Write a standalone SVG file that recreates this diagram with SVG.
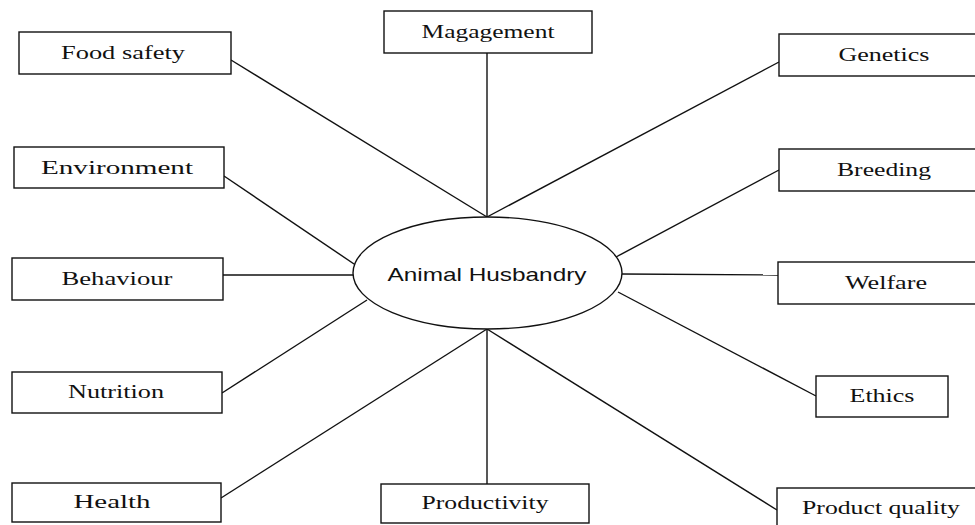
<svg xmlns="http://www.w3.org/2000/svg" width="975" height="525" viewBox="0 0 975 525">
<style>
.box{fill:#fff;stroke:#111;stroke-width:1.4}
.lbl{font-family:"Liberation Serif","Times New Roman",serif;font-size:19px;fill:#111;text-anchor:middle}
.ctr{font-family:"Liberation Sans",Arial,sans-serif;font-size:19px;fill:#111;text-anchor:middle}
.con{stroke:#111;stroke-width:1.4;fill:none}
</style>
<rect width="975" height="525" fill="#fff"/>
<g id="connectors">
<line class="con" x1="231" y1="60" x2="487" y2="217"/>
<line class="con" x1="487" y1="53" x2="487" y2="217"/>
<line class="con" x1="779" y1="62" x2="487" y2="217"/>
<line class="con" x1="224" y1="176" x2="357" y2="266"/>
<line class="con" x1="779" y1="170" x2="616" y2="257"/>
<line class="con" x1="223" y1="275" x2="353" y2="275"/>
<line class="con" x1="622" y1="274" x2="778" y2="275"/>
<line class="con" x1="222" y1="393" x2="367" y2="300"/>
<line class="con" x1="816" y1="396" x2="618" y2="292"/>
<line class="con" x1="221" y1="498" x2="487" y2="329"/>
<line class="con" x1="487" y1="329" x2="487" y2="484"/>
<line class="con" x1="777" y1="510" x2="487" y2="329"/>
</g>
<g id="center">
<ellipse class="box" cx="487.5" cy="273" rx="134.5" ry="56"/>
<text class="ctr" x="487" y="281" textLength="199" lengthAdjust="spacingAndGlyphs">Animal Husbandry</text>
</g>
<g id="food-safety"><rect class="box" x="19" y="32" width="212" height="42"/><text class="lbl" x="123" y="59" textLength="124" lengthAdjust="spacingAndGlyphs">Food safety</text></g>
<g id="management"><rect class="box" x="384" y="11" width="208" height="42"/><text class="lbl" x="488" y="38" textLength="133" lengthAdjust="spacingAndGlyphs">Magagement</text></g>
<g id="genetics"><rect class="box" x="779" y="34" width="212" height="42"/><text class="lbl" x="884" y="61" textLength="91" lengthAdjust="spacingAndGlyphs">Genetics</text></g>
<g id="environment"><rect class="box" x="14" y="147" width="210" height="41"/><text class="lbl" x="117" y="174" textLength="152" lengthAdjust="spacingAndGlyphs">Environment</text></g>
<g id="breeding"><rect class="box" x="779" y="149" width="212" height="42"/><text class="lbl" x="884" y="176" textLength="94" lengthAdjust="spacingAndGlyphs">Breeding</text></g>
<g id="behaviour"><rect class="box" x="12" y="258" width="211" height="42"/><text class="lbl" x="117" y="285" textLength="111" lengthAdjust="spacingAndGlyphs">Behaviour</text></g>
<g id="welfare"><rect class="box" x="778" y="262" width="213" height="42"/><text class="lbl" x="886" y="289" textLength="82" lengthAdjust="spacingAndGlyphs">Welfare</text></g>
<g id="nutrition"><rect class="box" x="12" y="372" width="210" height="41"/><text class="lbl" x="116" y="398" textLength="96" lengthAdjust="spacingAndGlyphs">Nutrition</text></g>
<g id="ethics"><rect class="box" x="816" y="376" width="132" height="41"/><text class="lbl" x="882" y="402" textLength="65" lengthAdjust="spacingAndGlyphs">Ethics</text></g>
<g id="health"><rect class="box" x="12" y="483" width="209" height="39"/><text class="lbl" x="112" y="508" textLength="77" lengthAdjust="spacingAndGlyphs">Health</text></g>
<g id="productivity"><rect class="box" x="381" y="484" width="208" height="39"/><text class="lbl" x="485" y="509" textLength="127" lengthAdjust="spacingAndGlyphs">Productivity</text></g>
<g id="product-quality"><rect class="box" x="777" y="488" width="214" height="42"/><text class="lbl" x="881" y="514" textLength="158" lengthAdjust="spacingAndGlyphs">Product quality</text></g>
</svg>
